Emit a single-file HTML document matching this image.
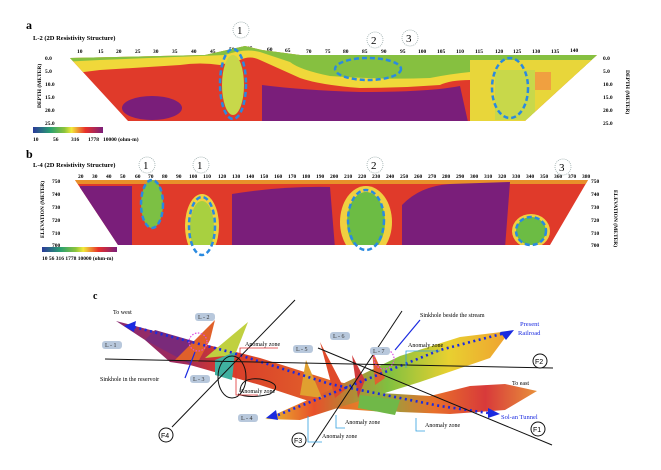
<!DOCTYPE html>
<html><head><meta charset="utf-8"><style>
html,body{margin:0;padding:0;background:#fff;}
svg{display:block;font-family:"Liberation Serif",serif;}
</style></head><body>
<svg width="661" height="470" viewBox="0 0 661 470" xmlns="http://www.w3.org/2000/svg">
<defs>
<linearGradient id="cb" x1="0" x2="1" y1="0" y2="0">
<stop offset="0" stop-color="#2a3a9a"/><stop offset="0.25" stop-color="#2aa070"/><stop offset="0.45" stop-color="#8cc43c"/><stop offset="0.55" stop-color="#f2ea3a"/><stop offset="0.75" stop-color="#e8302a"/><stop offset="1" stop-color="#7a1e7a"/></linearGradient>
<linearGradient id="rib" x1="0" x2="1" y1="0" y2="0">
<stop offset="0" stop-color="#8a2a70"/><stop offset="0.25" stop-color="#a02a5a"/><stop offset="0.4" stop-color="#d83a2a"/><stop offset="0.7" stop-color="#e05a2a"/><stop offset="1" stop-color="#e88a2a"/></linearGradient>
<linearGradient id="rib2" x1="0" x2="1" y1="0" y2="0">
<stop offset="0" stop-color="#e8c030"/><stop offset="0.2" stop-color="#e8502a"/><stop offset="0.5" stop-color="#80c040"/><stop offset="0.75" stop-color="#e8d030"/><stop offset="1" stop-color="#f0a030"/></linearGradient>
<linearGradient id="rib3" x1="0" x2="1" y1="0" y2="0">
<stop offset="0" stop-color="#70b848"/><stop offset="0.4" stop-color="#e8702a"/><stop offset="0.7" stop-color="#d83a3a"/><stop offset="1" stop-color="#e8903a"/></linearGradient>
</defs>

<!-- Panel a -->
<text x="26" y="29" font-size="12" font-weight="bold">a</text>
<text x="33" y="40" font-size="6.5" font-weight="bold">L-2 (2D Resistivity Structure)</text>
<g font-size="5.5" font-weight="bold">
<text x="77" y="53">10</text><text x="98" y="53">15</text><text x="116" y="53">20</text><text x="135" y="53">25</text><text x="153" y="53">30</text><text x="172" y="53">35</text><text x="191" y="53">40</text><text x="210" y="53">45</text><text x="229" y="51">50</text><text x="247" y="50">55</text><text x="267" y="51">60</text><text x="285" y="52">65</text><text x="306" y="53">70</text><text x="325" y="53">75</text><text x="343" y="53">80</text><text x="362" y="53">85</text><text x="381" y="53">90</text><text x="400" y="53">95</text><text x="418" y="53">100</text><text x="437" y="53">105</text><text x="456" y="53">110</text><text x="475" y="53">115</text><text x="495" y="53">120</text><text x="513" y="53">125</text><text x="532" y="53">130</text><text x="551" y="53">135</text><text x="570" y="52">140</text>
<text x="45" y="60">0.0</text><text x="45" y="73">5.0</text><text x="45" y="86">10.0</text><text x="45" y="99">15.0</text><text x="45" y="112">20.0</text><text x="45" y="125">25.0</text>
<text x="603" y="60">0.0</text><text x="603" y="73">5.0</text><text x="603" y="86">10.0</text><text x="603" y="99">15.0</text><text x="603" y="112">20.0</text><text x="603" y="125">25.0</text>
</g>
<text transform="translate(41,108) rotate(-90)" font-size="5.5" font-weight="bold">DEPTH (METER)</text>
<text transform="translate(626,70) rotate(90)" font-size="5.5" font-weight="bold">DEPTH (METER)</text>
<clipPath id="ca"><polygon points="70,58 205,55 245,46 262,50 300,55 597,55 525,121 128,121"/></clipPath>
<g clip-path="url(#ca)">
<rect x="60" y="40" width="560" height="90" fill="#e03a2a"/>
<path d="M60,40 H620 V80 H470 Q450,80 440,85 Q400,88 360,88 Q320,85 300,78 L260,60 Q250,55 240,60 L220,65 Q200,62 180,65 L100,70 L60,75 Z" fill="#f0d83a"/>
<path d="M60,40 H620 V72 H470 Q450,74 430,78 Q380,80 330,76 Q300,70 290,62 L260,52 Q245,48 225,55 L100,60 L60,62 Z" fill="#86c040"/>
<rect x="470" y="60" width="150" height="70" fill="#e8d63a"/>
<rect x="495" y="70" width="40" height="50" fill="#c8d84a"/>
<rect x="535" y="72" width="16" height="18" fill="#f0a040"/>
<ellipse cx="152" cy="108" rx="30" ry="12" fill="#7a1e7a"/>
<path d="M262,85 Q300,90 360,92 Q430,92 460,86 L468,122 H262 Z" fill="#7a1e7a"/>
<ellipse cx="233" cy="85" rx="11" ry="30" fill="#c8d84a"/>
</g>
<g fill="none" stroke="#2a8ae0" stroke-width="2.5" stroke-dasharray="5,3">
<ellipse cx="233" cy="84" rx="13" ry="35"/><ellipse cx="368" cy="69" rx="33" ry="11"/><ellipse cx="510" cy="88" rx="18" ry="30"/>
</g>
<g fill="none" stroke="#9aa" stroke-width="0.8" stroke-dasharray="1,1">
<circle cx="241" cy="30" r="8"/><circle cx="375" cy="40" r="8"/><circle cx="410" cy="38" r="8"/>
</g>
<g font-size="11"><text x="237" y="34">1</text><text x="371" y="44">2</text><text x="406" y="42">3</text></g>
<rect x="33" y="127" width="70" height="6" fill="url(#cb)"/>
<g font-size="5.5" font-weight="bold"><text x="33" y="141">10</text><text x="53" y="141">56</text><text x="71" y="141">316</text><text x="88" y="141">1778</text><text x="103" y="141">10000 (ohm-m)</text></g>

<!-- Panel b -->
<text x="26" y="158" font-size="12" font-weight="bold">b</text>
<text x="33" y="167" font-size="6.5" font-weight="bold">L-4 (2D Resistivity Structure)</text>
<g font-size="5.5" font-weight="bold">
<text x="78" y="178">20</text><text x="92" y="178">30</text><text x="106" y="178">40</text><text x="120" y="178">50</text><text x="135" y="178">60</text><text x="148" y="178">70</text><text x="162" y="178">80</text><text x="176" y="178">90</text><text x="189" y="178">100</text><text x="203" y="178">110</text><text x="218" y="178">120</text><text x="232" y="178">130</text><text x="246" y="178">140</text><text x="260" y="178">150</text><text x="274" y="178">160</text><text x="288" y="178">170</text><text x="302" y="178">180</text><text x="316" y="178">190</text><text x="330" y="178">200</text><text x="344" y="178">210</text><text x="358" y="178">220</text><text x="372" y="178">230</text><text x="386" y="178">240</text><text x="400" y="178">250</text><text x="414" y="178">260</text><text x="428" y="178">270</text><text x="442" y="178">280</text><text x="456" y="178">290</text><text x="470" y="178">300</text><text x="484" y="178">310</text><text x="498" y="178">320</text><text x="512" y="178">330</text><text x="526" y="178">340</text><text x="540" y="178">350</text><text x="554" y="178">360</text><text x="568" y="178">370</text><text x="582" y="178">380</text>
<text x="52" y="183">750</text><text x="52" y="196">740</text><text x="52" y="209">730</text><text x="52" y="222">720</text><text x="52" y="235">710</text><text x="52" y="247">700</text>
<text x="591" y="183">750</text><text x="591" y="196">740</text><text x="591" y="209">730</text><text x="591" y="222">720</text><text x="591" y="235">710</text><text x="591" y="247">700</text>
</g>
<text transform="translate(44,238) rotate(-90)" font-size="5.5" font-weight="bold">ELEVATION (METER)</text>
<text transform="translate(614,190) rotate(90)" font-size="5.5" font-weight="bold">ELEVATION (METER)</text>
<clipPath id="cbp"><polygon points="75,180 588,180 550,245 118,245"/></clipPath>
<g clip-path="url(#cbp)">
<rect x="70" y="178" width="520" height="70" fill="#e03a2a"/>
<rect x="70" y="178" width="520" height="6" fill="#e8902a"/>
<rect x="80" y="186" width="52" height="62" fill="#7a1e7a"/>
<path d="M232,194 Q280,186 330,187 L335,248 H232 Z" fill="#7a1e7a"/>
<path d="M402,205 Q420,186 450,184 L510,182 L505,248 H402 Z" fill="#7a1e7a"/>
<ellipse cx="366" cy="222" rx="26" ry="36" fill="#f0d040"/>
<ellipse cx="202" cy="226" rx="17" ry="32" fill="#f0d040"/>
<ellipse cx="152" cy="204" rx="11" ry="24" fill="#7cc044"/>
<ellipse cx="202" cy="228" rx="12" ry="27" fill="#a8d040"/>
<ellipse cx="366" cy="222" rx="19" ry="30" fill="#6cbc44"/>
<ellipse cx="531" cy="231" rx="19" ry="17" fill="#f0d040"/>
<ellipse cx="531" cy="231" rx="15" ry="14" fill="#6cbc44"/>
</g>
<g fill="none" stroke="#2a8ae0" stroke-width="2.5" stroke-dasharray="5,3">
<ellipse cx="152" cy="204" rx="11" ry="24"/><ellipse cx="202" cy="226" rx="13" ry="29"/><ellipse cx="366" cy="220" rx="18" ry="30"/><ellipse cx="531" cy="231" rx="15" ry="14"/>
</g>
<g fill="none" stroke="#9aa" stroke-width="0.8" stroke-dasharray="1,1">
<circle cx="147" cy="165" r="8"/><circle cx="201" cy="165" r="8"/><circle cx="375" cy="165" r="8"/><circle cx="563" cy="167" r="8"/>
</g>
<g font-size="11"><text x="143" y="169">1</text><text x="197" y="169">1</text><text x="371" y="169">2</text><text x="559" y="171">3</text></g>
<rect x="42" y="247" width="75" height="5" fill="url(#cb)"/>
<g font-size="5.5" font-weight="bold"><text x="42" y="260">10  56  316  1778  10000 (ohm-m)</text></g>

<!-- Panel c -->
<text x="93" y="299" font-size="10" font-weight="bold">c</text>
<polygon points="116,321 200,343 260,358 330,380 385,392 385,412 330,408 260,385 190,365 170,362 145,340" fill="url(#rib)"/>
<polygon points="155,330 200,343 190,364 145,340" fill="#7a2a7a"/>
<polygon points="365,392 430,396 470,386 505,384 537,391 505,410 450,414 400,412 365,408" fill="url(#rib3)"/>
<polygon points="265,419 330,390 400,356 460,337 510,331 490,358 420,382 350,404 300,420" fill="url(#rib2)"/>
<polygon points="175,360 215,320 210,340 198,362" fill="#e0602a"/>
<polygon points="205,358 248,322 235,355" fill="#c0d040"/>
<polygon points="215,360 235,352 232,380 215,375" fill="#40b0a0"/>
<polygon points="320,342 345,390 335,398" fill="#e04a2a"/>
<polygon points="306,360 322,398 300,395" fill="#e0a030"/>
<polygon points="352,355 365,380 358,398" fill="#d03a3a"/>
<polygon points="372,350 385,378 375,385" fill="#e06030"/>
<polygon points="360,395 400,400 395,415 358,408" fill="#70b848"/>
<g fill="#1a2ae0">
<polygon points="124,326 136,321 134,332"/><polygon points="514,330 500,332 506,340"/><polygon points="266,418 276,410 278,420"/><polygon points="500,414 488,408 488,418"/>
</g>
<g fill="none" stroke="#1a2ae0" stroke-width="2.6" stroke-dasharray="2,3.5">
<polyline points="134,327 230,352 330,384 440,406 488,413"/>
<polyline points="278,415 360,382 440,350 505,333"/>
</g>
<g stroke="#111" stroke-width="1" fill="none">
<line x1="105" y1="359" x2="553" y2="368"/>
<line x1="295" y1="300" x2="172" y2="427"/>
<line x1="402" y1="311" x2="312" y2="447"/>
<line x1="318" y1="348" x2="552" y2="445"/>
<ellipse cx="232" cy="377" rx="14" ry="21"/>
<path d="M240,392 q0,-15 20,-13 q25,5 10,15 q-20,5 -32,0"/>
</g>
<g stroke="#1a2ae0" stroke-width="1.2" fill="none">
<line x1="185" y1="378" x2="195" y2="352"/><line x1="420" y1="320" x2="395" y2="350"/>
</g>
<g stroke="#e050e0" stroke-width="1.2" fill="none" stroke-dasharray="1.5,1.5">
<circle cx="198" cy="342" r="9"/><circle cx="384" cy="359" r="10"/>
</g>
<g stroke="#30a0e0" stroke-width="0.8" fill="none">
<polyline points="406,368 406,351 440,351"/>
<polyline points="336,415 336,428 345,428"/>
<polyline points="416,418 416,431 425,431"/>
<polyline points="308,416 308,442 322,442"/>
</g>
<g stroke="#e03030" stroke-width="0.8" fill="none">
<polyline points="240,358 240,348 278,348"/><polyline points="236,370 236,395 258,395"/>
</g>
<g font-size="6">
<text x="113" y="314">To west</text>
<text x="100" y="381">Sinkhole in the reservoir</text>
<text x="245" y="346">Anomaly zone</text>
<text x="240" y="393">Anomaly zone</text>
<text x="420" y="317">Sinkhole beside the stream</text>
<text x="408" y="347">Anomaly zone</text>
<text x="512" y="385">To east</text>
<text x="345" y="424">Anomaly zone</text>
<text x="425" y="427">Anomaly zone</text>
<text x="322" y="438">Anomaly zone</text>
</g>
<g font-size="6.5" fill="#1a2ae0"><text x="520" y="326">Present</text><text x="518" y="335">Railroad</text><text x="501" y="419">Sol-an Tunnel</text></g>
<g font-size="6" fill="#333">
<rect x="195" y="313" width="20" height="8" rx="3" fill="#b8c8dc"/><text x="198" y="319">L - 2</text>
<rect x="102" y="341" width="20" height="8" rx="3" fill="#b8c8dc"/><text x="105" y="347">L - 1</text>
<rect x="190" y="375" width="20" height="8" rx="3" fill="#b8c8dc"/><text x="193" y="381">L - 3</text>
<rect x="238" y="414" width="20" height="8" rx="3" fill="#b8c8dc"/><text x="241" y="420">L - 4</text>
<rect x="293" y="345" width="20" height="8" rx="3" fill="#b8c8dc"/><text x="296" y="351">L - 5</text>
<rect x="330" y="332" width="20" height="8" rx="3" fill="#b8c8dc"/><text x="333" y="338">L - 6</text>
<rect x="370" y="347" width="20" height="8" rx="3" fill="#b8c8dc"/><text x="373" y="353">L - 7</text>
</g>
<g fill="#fff" stroke="#111" stroke-width="1">
<circle cx="540" cy="361" r="7"/><circle cx="538" cy="429" r="7"/><circle cx="299" cy="440" r="7"/><circle cx="166" cy="435" r="7"/>
</g>
<g font-size="7" font-family="Liberation Sans,sans-serif"><text x="535" y="364">F2</text><text x="533" y="432">F1</text><text x="294" y="443">F3</text><text x="161" y="438">F4</text></g>
</svg>
</body></html>
